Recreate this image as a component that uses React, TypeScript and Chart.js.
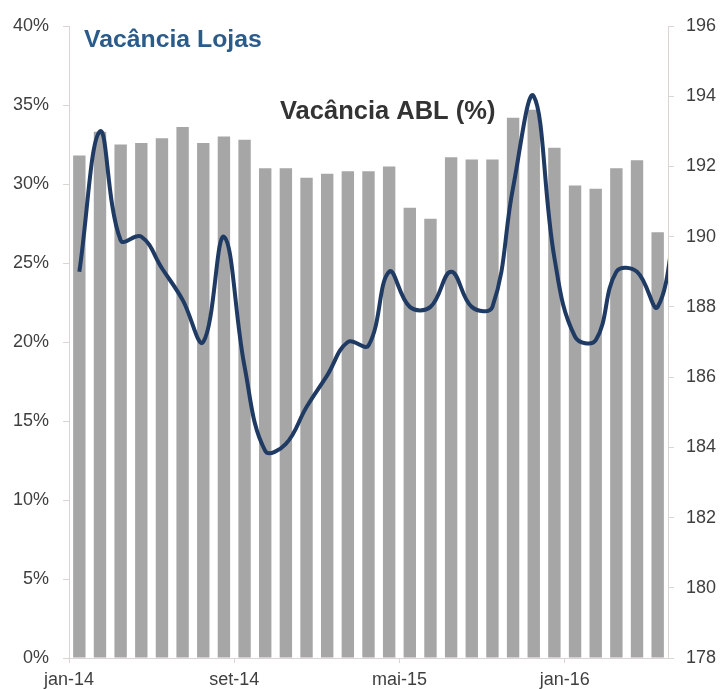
import React, { useEffect, useRef } from 'react';
import { Chart, registerables } from 'chart.js';

Chart.register(...registerables);

// 29 months shown on the category axis
const categories = [
  'jan-14', 'fev-14', 'mar-14', 'abr-14', 'mai-14', 'jun-14', 'jul-14', 'ago-14', 'set-14', 'out-14', 'nov-14', 'dez-14',
  'jan-15', 'fev-15', 'mar-15', 'abr-15', 'mai-15', 'jun-15', 'jul-15', 'ago-15', 'set-15', 'out-15', 'nov-15', 'dez-15',
  'jan-16', 'fev-16', 'mar-16', 'abr-16', 'mai-16',
];

// Vacância (%) – bars, left axis
const vacanciaPct = [
  31.8, 33.3, 32.5, 32.6, 32.9, 33.6, 32.6, 33.0, 32.8, 31.0, 31.0, 30.4,
  30.65, 30.8, 30.8, 31.1, 28.5, 27.8, 31.7, 31.55, 31.55, 34.2, 34.7, 32.3,
  29.9, 29.7, 31.0, 31.5, 26.95,
];

// ABL – line, right axis (last value, jun-16, runs off the plot edge)
const ablValues = [
  189.0, 193.0, 189.9, 190.0, 189.1, 188.2, 187.0, 190.0, 186.3, 183.9, 184.1, 185.15,
  186.05, 187.0, 186.9, 189.0, 188.0, 188.0, 189.0, 188.0, 188.0, 191.4, 194.0, 189.4,
  187.15, 187.05, 189.0, 189.0, 188.0, 191.0,
];

const xTickLabels = ['jan-14', 'set-14', 'mai-15', 'jan-16'];
const leftTicks = { min: 0, max: 40, step: 5 };
const rightTicks = { min: 178, max: 196, step: 2 };

const titleText = 'Vacância Lojas';
const subtitleText = 'Vacância ABL (%)';

const FONT = "'Liberation Sans', Arial, Helvetica, sans-serif";
const AXIS_COLOR = '#d9d6d2';
const TICK_TEXT = '#3f3f3f';

const textPlugin = {
  id: 'textAnnotations',
  afterDraw(chart: any) {
    const { ctx, chartArea } = chart;
    ctx.save();
    ctx.textBaseline = 'alphabetic';
    ctx.textAlign = 'left';
    ctx.font = `bold 24.8px ${FONT}`;
    ctx.fillStyle = '#2a5b8a';
    ctx.fillText(titleText, chartArea.left + 15, chartArea.top + 21);
    ctx.font = `bold 25.5px ${FONT}`;
    ctx.fillStyle = '#333333';
    ctx.fillText(subtitleText, chartArea.left + 211, chartArea.top + 93);
    ctx.restore();
  },
};

export default function App() {
  const canvasRef = useRef<HTMLCanvasElement | null>(null);

  useEffect(() => {
    if (!canvasRef.current) return;
    const shown = new Set(xTickLabels);
    const n = categories.length;
    const chart = new Chart(canvasRef.current, {
      data: {
        labels: categories,
        datasets: [
          {
            type: 'line',
            label: 'ABL',
            data: ablValues.map((v, i) => ({ x: i, y: v })),
            xAxisID: 'xv',
            yAxisID: 'yRight',
            borderColor: '#1f3b64',
            borderWidth: 4,
            pointRadius: 0,
            tension: 0.4,
            fill: false,
            order: 0,
            clip: 0,
          } as any,
          {
            type: 'bar',
            label: 'Vacância',
            data: vacanciaPct.map((v, i) => ({ x: i, y: v })),
            xAxisID: 'xv',
            yAxisID: 'yLeft',
            backgroundColor: '#a6a6a6',
            borderWidth: 0,
            categoryPercentage: 1,
            barPercentage: 0.6,
            order: 1,
          } as any,
        ],
      },
      options: {
        animation: false,
        responsive: true,
        maintainAspectRatio: false,
        layout: { padding: { top: 26, left: 0, right: 0, bottom: 0 } },
        plugins: { legend: { display: false }, tooltip: { enabled: false }, title: { display: false } },
        scales: {
          x: {
            type: 'category',
            position: 'bottom',
            offset: true,
            grid: {
              offset: true,
              drawOnChartArea: false,
              drawTicks: true,
              tickLength: 5,
              color: (c: any) => {
                const lbl = categories[c.index];
                return lbl && shown.has(lbl) ? AXIS_COLOR : 'rgba(0,0,0,0)';
              },
            },
            border: { display: true, color: AXIS_COLOR, width: 1 },
            ticks: {
              autoSkip: false,
              maxRotation: 0,
              minRotation: 0,
              padding: 6,
              labelOffset: -10.33,
              color: TICK_TEXT,
              font: { family: FONT, size: 18 },
              callback: (_v: any, i: number) => (shown.has(categories[i]) ? categories[i] : ''),
            },
            afterFit: (s: any) => { s.height = 31; },
          },
          xv: {
            type: 'linear',
            axis: 'x',
            display: false,
            min: -0.5,
            max: n - 0.5,
            offset: false,
            ticks: { stepSize: 5 },
          },
          yLeft: {
            type: 'linear',
            position: 'left',
            min: leftTicks.min,
            max: leftTicks.max,
            grid: { drawOnChartArea: false, drawTicks: true, tickLength: 6, color: AXIS_COLOR },
            border: { display: true, color: AXIS_COLOR, width: 1 },
            ticks: {
              stepSize: leftTicks.step,
              padding: 14,
              color: TICK_TEXT,
              font: { family: FONT, size: 18 },
              callback: (v: any) => `${v}%`,
            },
            afterFit: (s: any) => { s.width = 69; },
          },
          yRight: {
            type: 'linear',
            position: 'right',
            min: rightTicks.min,
            max: rightTicks.max,
            grid: { drawOnChartArea: false, drawTicks: true, tickLength: 6, color: AXIS_COLOR },
            border: { display: true, color: AXIS_COLOR, width: 1 },
            ticks: {
              stepSize: rightTicks.step,
              padding: 12,
              color: TICK_TEXT,
              font: { family: FONT, size: 18 },
            },
            afterFit: (s: any) => { s.width = 54; },
          },
        },
      } as any,
      plugins: [textPlugin],
    });
    return () => chart.destroy();
  }, []);

  return (
    <div style={{ position: 'fixed', left: 0, top: 0, width: 722, height: 689, background: '#fff' }}>
      <canvas ref={canvasRef} />
    </div>
  );
}
